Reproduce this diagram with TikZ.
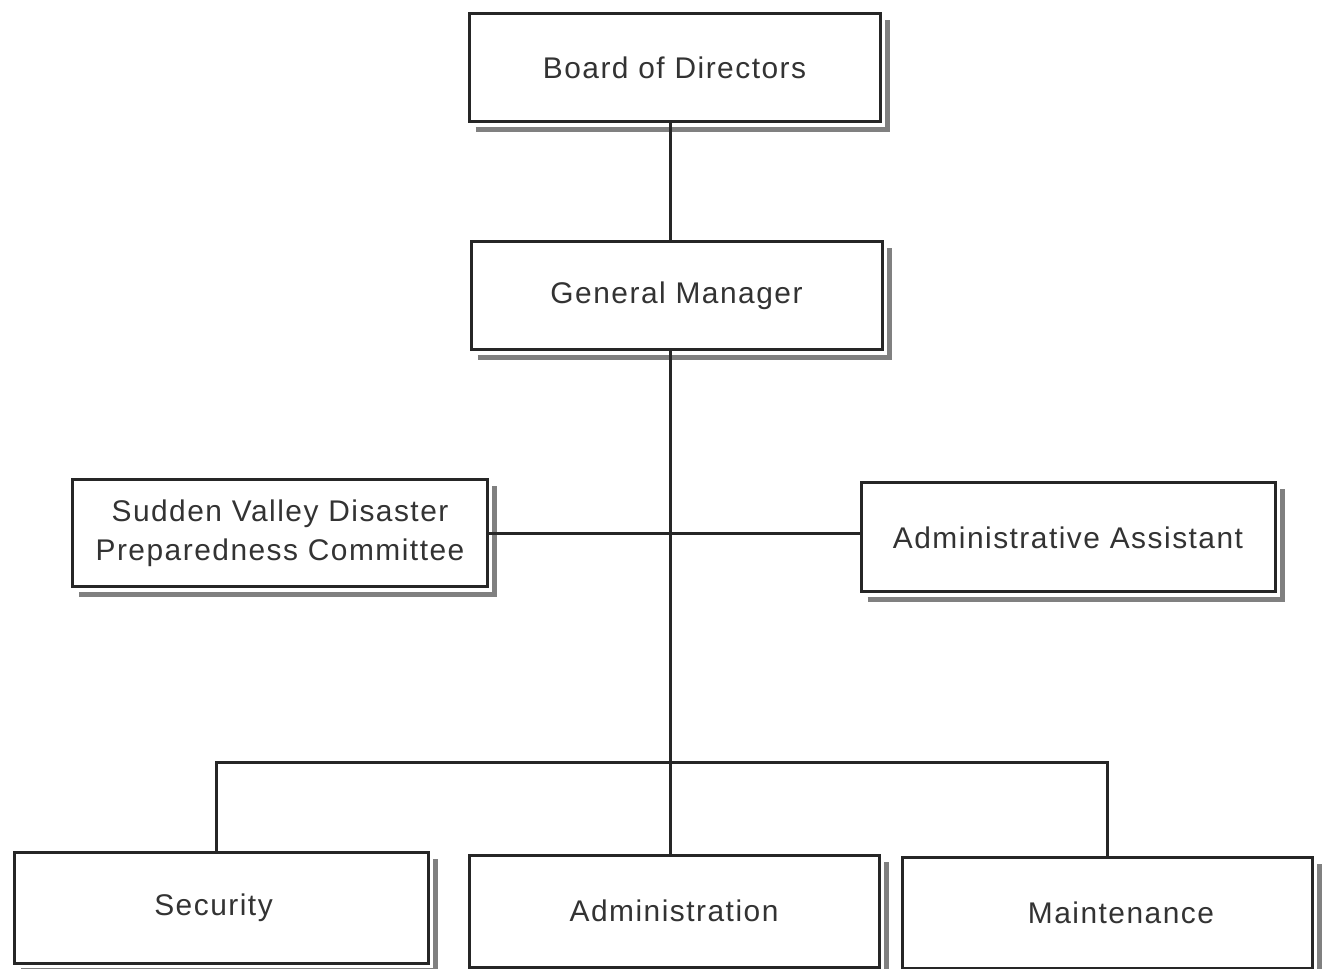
\documentclass[tikz,border=0pt]{standalone}
\usepackage{fontspec}
\setmainfont{Liberation Sans}[LetterSpace=5]
\begin{document}
\begin{tikzpicture}[x=1bp,y=1bp,
  orgbox/.style={draw=black!85,line width=3bp,fill=white,minimum width=411bp,minimum height=108bp,
    inner sep=0pt,align=center,font=\fontsize{30}{39}\selectfont,text=black!80},
  conn/.style={draw=black!85,line width=3bp},
  shade/.style={draw=black!50,line width=5bp}]
\useasboundingbox (0,0) rectangle (1324,968);
\newcommand{\orgshadow}[1]{%
  \draw[shade] ([xshift=8bp,yshift=-6bp]#1.south west) -- ([xshift=6bp,yshift=-6bp]#1.south east)
     -- ([xshift=6bp,yshift=-8bp]#1.north east);}
\node[orgbox] (board) at (674.5,900) {Board of Directors};
\node[orgbox] (gm) at (676.5,672) {General Manager};
\node[orgbox,minimum width=414bp,minimum height=107bp] (svdpc) at (280,434.5) {Sudden Valley Disaster\\Preparedness Committee};
\node[orgbox,minimum width=414bp,minimum height=109bp] (aa) at (1068,430.5) {Administrative Assistant};
\node[orgbox,minimum width=413bp,minimum height=111bp] (security) at (221.5,60.5) {Security\hspace{16bp}};
\node[orgbox,minimum width=410bp,minimum height=112bp] (admin) at (674,57) {Administration};
\node[orgbox,minimum width=410bp,minimum height=111bp] (maint) at (1107,55.5) {\hspace{28bp}Maintenance};
\orgshadow{board}
\orgshadow{gm}
\orgshadow{svdpc}
\orgshadow{aa}
\orgshadow{security}
\orgshadow{admin}
\orgshadow{maint}
\coordinate (spine) at (670,500);
\coordinate (busL) at (216,206);
\coordinate (busR) at (1107,206);
\draw[conn] (board.south -| spine) -- (gm.north -| spine);
\draw[conn] (gm.south -| spine) -- (admin.north -| spine);
\draw[conn] (svdpc.east) -- (svdpc.east -| aa.west);
\draw[conn] (security.north -| busL) -- (busL) -- (busR) -- (maint.north -| busR);
\end{tikzpicture}
\end{document}
